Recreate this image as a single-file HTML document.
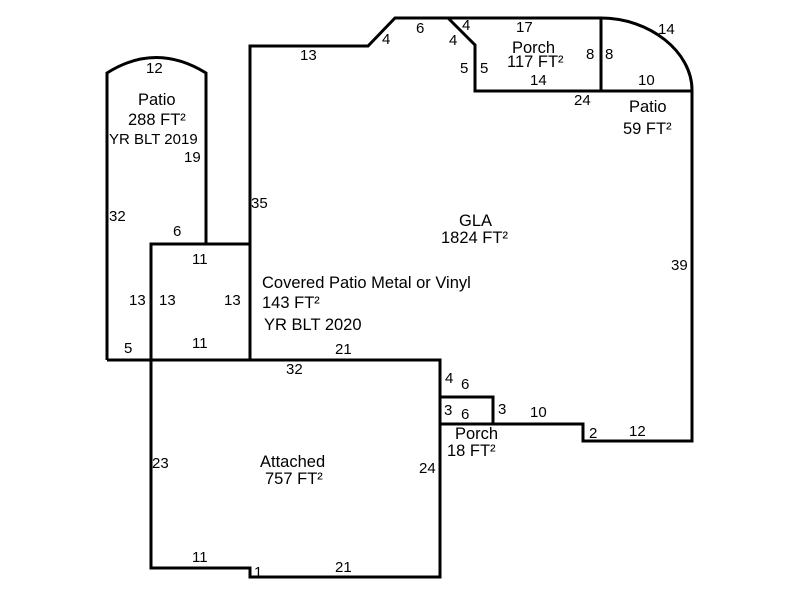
<!DOCTYPE html>
<html><head><style>
body{margin:0;background:#fff}
svg text{font-family:"Liberation Sans",Arial,sans-serif;font-size:15px;fill:#000}
svg text.l{font-size:16.5px}
</style></head><body>
<svg width="800" height="600" viewBox="0 0 800 600" xmlns="http://www.w3.org/2000/svg">
<g fill="none" stroke="#000" stroke-width="3">
<path d="M107,360 L107,73 Q156,42 206,73 L206,244"/>
<path d="M107,360 L151,360"/>
<rect x="151" y="244" width="99" height="116"/>
<path d="M250,360 L250,46 L368,46 L395,18 L601,18 C650,18 692,52 692,90 L692,441 L583,441 L583,424 L440,424 L440,360 Z"/>
<path d="M448,18 L475,45 L475,91 L692,91"/>
<path d="M601,18 L601,91"/>
<path d="M440,397 L493,397 L493,424"/>
<path d="M151,360 L151,568 L250,568 L250,577 L440,577 L440,424"/>
</g>
<g>
<text x="146" y="73">12</text>
<text class="l" x="138" y="105">Patio</text>
<text class="l" x="128" y="125">288 FT²</text>
<text x="109" y="144">YR BLT 2019</text>
<text x="184" y="162">19</text>
<text x="109" y="221">32</text>
<text x="173" y="236">6</text>
<text x="192" y="264">11</text>
<text x="129" y="305">13</text>
<text x="159" y="305">13</text>
<text x="224" y="305">13</text>
<text x="192" y="348">11</text>
<text x="124" y="353">5</text>
<text x="300" y="60">13</text>
<text x="251" y="208">35</text>
<text x="382" y="44">4</text>
<text x="416" y="33">6</text>
<text x="462" y="30">4</text>
<text x="449" y="45">4</text>
<text x="516" y="32">17</text>
<text class="l" x="512" y="53">Porch</text>
<text class="l" x="507" y="67">117 FT²</text>
<text x="586" y="59">8</text>
<text x="605" y="59">8</text>
<text x="460" y="73">5</text>
<text x="480" y="73">5</text>
<text x="530" y="85">14</text>
<text x="658" y="34">14</text>
<text x="638" y="85">10</text>
<text x="574" y="105">24</text>
<text class="l" x="629" y="112">Patio</text>
<text class="l" x="623" y="134">59 FT²</text>
<text class="l" x="459" y="226">GLA</text>
<text class="l" x="441" y="243">1824 FT²</text>
<text x="671" y="270">39</text>
<text class="l" x="262" y="288">Covered Patio Metal or Vinyl</text>
<text class="l" x="262" y="308">143 FT²</text>
<text class="l" x="264" y="330">YR BLT 2020</text>
<text x="335" y="354">21</text>
<text x="286" y="374">32</text>
<text x="445" y="383">4</text>
<text x="461" y="389">6</text>
<text x="444" y="415">3</text>
<text x="461" y="419">6</text>
<text x="498" y="414">3</text>
<text x="530" y="417">10</text>
<text class="l" x="455" y="439">Porch</text>
<text class="l" x="447" y="456">18 FT²</text>
<text x="589" y="438">2</text>
<text x="629" y="436">12</text>
<text x="152" y="468">23</text>
<text class="l" x="260" y="467">Attached</text>
<text class="l" x="265" y="484">757 FT²</text>
<text x="419" y="473">24</text>
<text x="192" y="562">11</text>
<text x="254" y="577">1</text>
<text x="335" y="572">21</text>
</g>
</svg>
</body></html>
